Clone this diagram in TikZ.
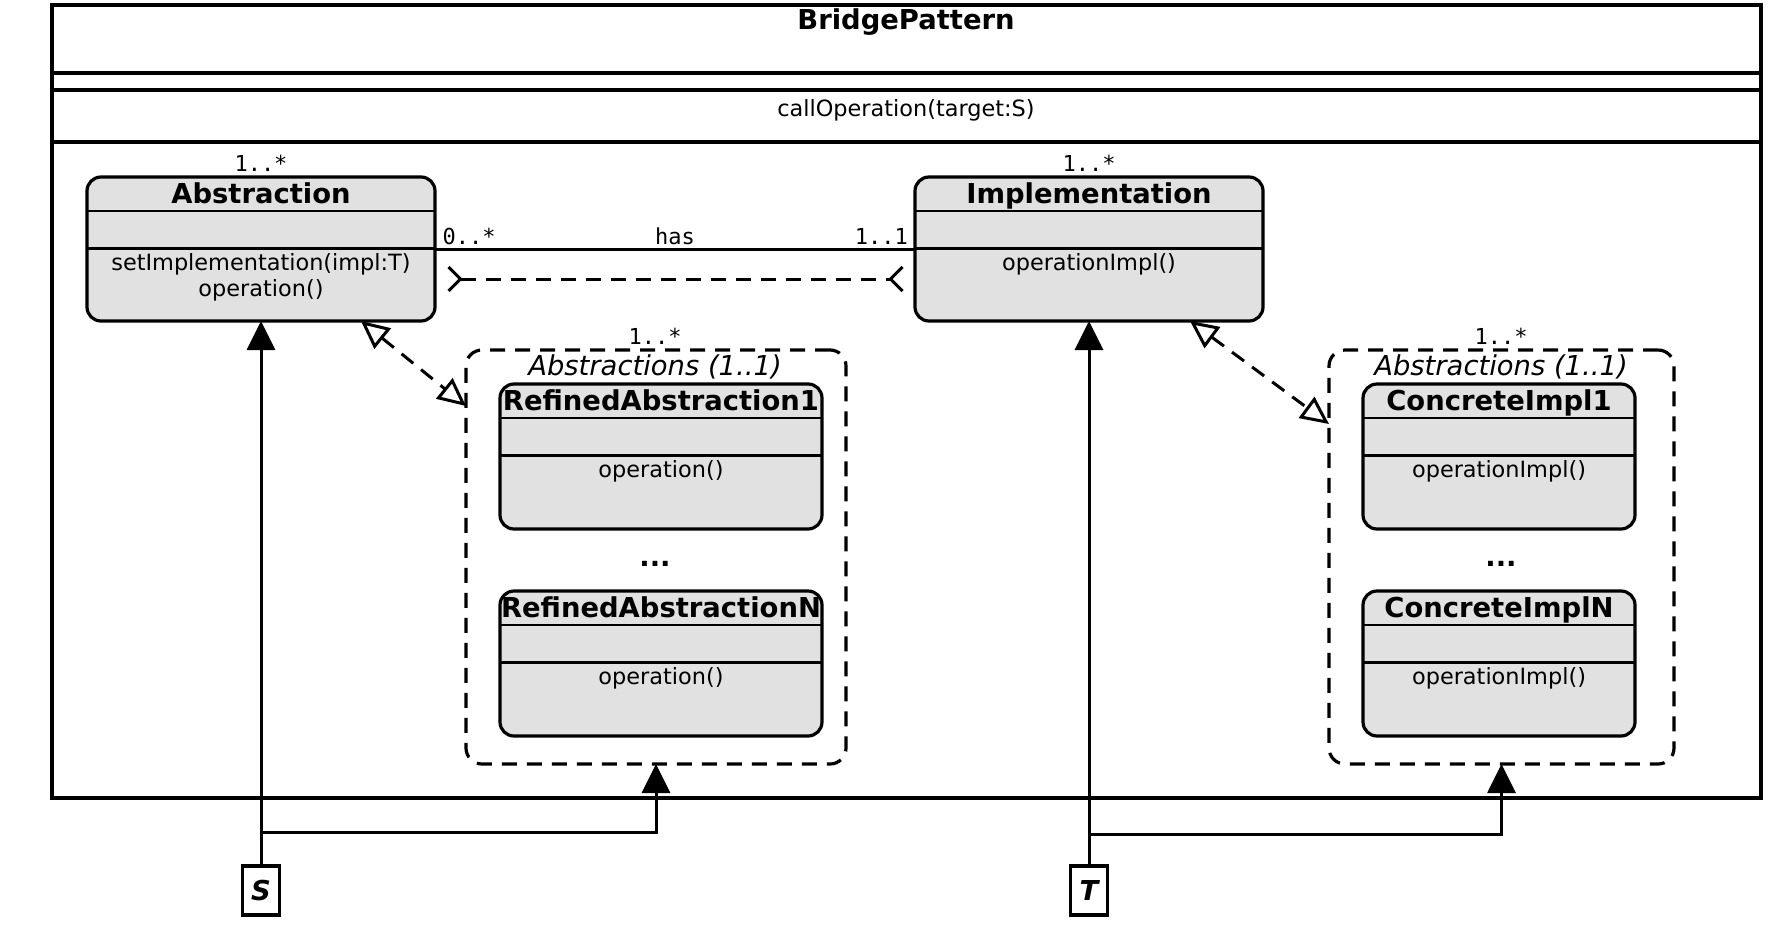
\documentclass[tikz,border=0pt]{standalone}
\usepackage{fontspec}
\setmainfont{DejaVu Sans}
\setmonofont{DejaVu Sans Mono}
\usetikzlibrary{arrows.meta}

\definecolor{boxgray}{RGB}{225,225,225}

\tikzset{
	frame/.style={draw, line width=1.6pt, inner sep=0pt, outer sep=0pt},
	classbox/.style={frame, fill=boxgray, rounded corners=7pt},
	groupbox/.style={frame, dash pattern=on 7.5pt off 5pt, rounded corners=8pt},
	sep/.style={line width=1.3pt},
	classname/.style={anchor=base, inner sep=0pt, font=\fontsize{13.7}{16}\selectfont\bfseries},
	classop/.style={anchor=base, inner sep=0pt, font=\fontsize{11.2}{13}\selectfont},
	mult/.style={anchor=base, inner sep=0pt, font=\fontsize{11}{13}\selectfont\ttfamily},
	grouplabel/.style={anchor=base, inner sep=0pt, font=\fontsize{13.7}{16}\selectfont\itshape},
	param/.style={frame, minimum width=18.5pt, minimum height=24.5pt, font=\fontsize{13.7}{16}\selectfont\bfseries\itshape},
	inherit/.style={line width=1.5pt, -{Triangle[length=14.5pt, width=14pt]}},
	realize/.style={line width=1.5pt, dash pattern=on 7.5pt off 5pt, {Triangle[open, length=14pt, width=13pt]}-{Triangle[open, length=14pt, width=13pt]}},
	navlink/.style={line width=1.5pt, dash pattern=on 7.5pt off 5pt, {Straight Barb[reversed, length=6pt, width=12pt]}-{Straight Barb[reversed, length=6pt, width=12pt]}}
}

\begin{document}
\begin{tikzpicture}[x=0.5pt, y=-0.5pt]

	\useasboundingbox (0,0) rectangle (1787,937);

	% outer package frame
	\node [frame, minimum width=854.5pt, minimum height=396.5pt] (bridge) at (906.5,401.5) {};
	\draw [frame] ([yshift=-34pt]bridge.north west) -- ([yshift=-34pt]bridge.north east);
	\draw [frame] ([yshift=-42.5pt]bridge.north west) -- ([yshift=-42.5pt]bridge.north east);
	\draw [frame] ([yshift=-68.5pt]bridge.north west) -- ([yshift=-68.5pt]bridge.north east);
	\node [classname] (bridgeT) at (906,29) {BridgePattern};
	\node [classop] (bridgeOp) at (906,116) {callOperation(target:S)};

	% groups
	\node [groupbox, minimum width=190pt, minimum height=207pt] (grpA) at (656,557) {};
	\node [groupbox, minimum width=172.5pt, minimum height=207pt] (grpC) at (1501.5,557) {};
	\node [mult] (grpAm) at (655,344) {1..*};
	\node [mult] (grpCm) at (1501,344) {1..*};
	\node [grouplabel] (grpAl) at (655,375) {Abstractions (1..1)};
	\node [grouplabel] (grpCl) at (1501,375) {Abstractions (1..1)};
	\node [classname] (grpAd) at (655,566) {...};
	\node [classname] (grpCd) at (1501,566) {...};

	% classes
	\node [classbox, minimum width=174pt, minimum height=72pt] (abs) at (261,249) {};
	\node [classbox, minimum width=174pt, minimum height=72pt] (impl) at (1089,249) {};
	\node [classbox, minimum width=161pt, minimum height=72.5pt] (ref1) at (661,456.5) {};
	\node [classbox, minimum width=161pt, minimum height=72.5pt] (refN) at (661,663.5) {};
	\node [classbox, minimum width=136pt, minimum height=72.5pt] (con1) at (1499,456.5) {};
	\node [classbox, minimum width=136pt, minimum height=72.5pt] (conN) at (1499,663.5) {};

	\foreach \c in {abs,impl,ref1,refN,con1,conN} {
		\draw [sep] ([yshift=-17pt]\c.north west) -- ([yshift=-17pt]\c.north east);
		\draw [sep] ([yshift=-35.75pt]\c.north west) -- ([yshift=-35.75pt]\c.north east);
	}

	\node [mult] (absm) at (261,171) {1..*};
	\node [classname] (absT) at (261,203) {Abstraction};
	\node [classop] (absOp1) at (261,270) {setImplementation(impl:T)};
	\node [classop] (absOp2) at (261,296) {operation()};

	\node [mult] (implm) at (1089,171) {1..*};
	\node [classname] (implT) at (1089,203) {Implementation};
	\node [classop] (implOp) at (1089,270) {operationImpl()};

	\node [classname] (ref1T) at (661,410) {RefinedAbstraction1};
	\node [classop] (ref1Op) at (661,477) {operation()};
	\node [classname] (refNT) at (661,617) {RefinedAbstractionN};
	\node [classop] (refNOp) at (661,684) {operation()};

	\node [classname] (con1T) at (1499,410) {ConcreteImpl1};
	\node [classop] (con1Op) at (1499,477) {operationImpl()};
	\node [classname] (conNT) at (1499,617) {ConcreteImplN};
	\node [classop] (conNOp) at (1499,684) {operationImpl()};

	% template parameters
	\node [param] (S) at (261,890.5) {S};
	\node [param] (T) at (1089,890.5) {T};

	% associations
	\draw [line width=1.5pt] (abs.east) -- (impl.west)
		node [mult, pos=0.071, yshift=2.5pt] {0..*}
		node [mult, pos=0.5, yshift=2.5pt] {has}
		node [mult, pos=0.93, yshift=2.5pt] {1..1};
	\draw [navlink] ([xshift=6pt, yshift=-15pt]abs.east) -- ([xshift=-5.5pt, yshift=-15pt]impl.west);

	\draw [realize] ([xshift=-37pt]abs.south east) -- ([yshift=-28pt]grpA.north west);
	\draw [realize] ([xshift=-36.5pt]impl.south east) -- ([yshift=-37pt]grpC.north west);

	% bindings
	\draw [inherit] (S) -- (abs);
	\draw [inherit] ([yshift=17pt]S.north) -| (grpA.south);
	\draw [inherit] (T) -- (impl);
	\draw [inherit] ([yshift=16pt]T.north) -| (grpC.south);

\end{tikzpicture}
\end{document}
